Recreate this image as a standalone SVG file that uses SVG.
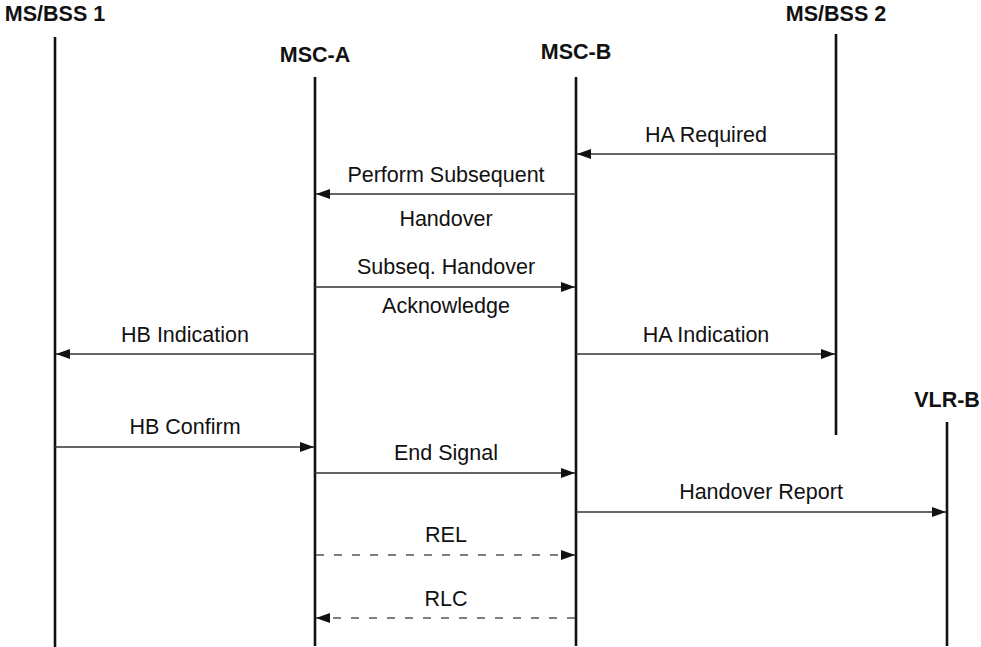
<svg xmlns="http://www.w3.org/2000/svg" width="981" height="647" viewBox="0 0 981 647">
<defs>
<style>
.t{font-family:"Liberation Sans",Arial,sans-serif;font-size:21.5px;fill:#111;text-anchor:middle}
.h{font-weight:bold}
.life{stroke:#111;stroke-width:2.6;fill:none}
.msg{stroke:#333;stroke-width:1.4;fill:none;marker-end:url(#ah)}
.dash{stroke:#555;stroke-dasharray:8,10}
</style>
<marker id="ah" viewBox="0 0 14 10" refX="14" refY="5" markerWidth="14" markerHeight="10" markerUnits="userSpaceOnUse" orient="auto">
<path d="M0,0 L14,5 L0,10 Z" fill="#111"/>
</marker>
</defs>
<rect width="981" height="647" fill="#fff"/>
<g id="msbss1"><text class="t h" x="55" y="21">MS/BSS 1</text><line class="life" x1="55" y1="37" x2="55" y2="647"/></g>
<g id="msca"><text class="t h" x="315" y="62">MSC-A</text><line class="life" x1="315" y1="77" x2="315" y2="646"/></g>
<g id="mscb"><text class="t h" x="576" y="59">MSC-B</text><line class="life" x1="576" y1="77" x2="576" y2="646"/></g>
<g id="msbss2"><text class="t h" x="836" y="21">MS/BSS 2</text><line class="life" x1="836" y1="34" x2="836" y2="435"/></g>
<g id="vlrb"><text class="t h" x="947" y="407">VLR-B</text><line class="life" x1="947" y1="422" x2="947" y2="646"/></g>
<g id="connectors">
<line class="msg" x1="836" y1="154" x2="577" y2="154"/>
<text class="t" x="706" y="142">HA Required</text>
<line class="msg" x1="576" y1="194" x2="316" y2="194"/>
<text class="t" x="446" y="182">Perform Subsequent</text>
<text class="t" x="446" y="226">Handover</text>
<line class="msg" x1="315" y1="287" x2="575" y2="287"/>
<text class="t" x="446" y="274">Subseq. Handover</text>
<text class="t" x="446" y="313">Acknowledge</text>
<line class="msg" x1="315" y1="354" x2="56" y2="354"/>
<text class="t" x="185" y="342">HB Indication</text>
<line class="msg" x1="576" y1="354" x2="835" y2="354"/>
<text class="t" x="706" y="342">HA Indication</text>
<line class="msg" x1="55" y1="447" x2="314" y2="447"/>
<text class="t" x="185" y="434">HB Confirm</text>
<line class="msg" x1="315" y1="473" x2="575" y2="473"/>
<text class="t" x="446" y="460">End Signal</text>
<line class="msg" x1="576" y1="512" x2="946" y2="512"/>
<text class="t" x="761" y="499">Handover Report</text>
<line class="msg dash" x1="316" y1="555" x2="575" y2="555"/>
<text class="t" x="446" y="542">REL</text>
<line class="msg dash" x1="575" y1="618" x2="316" y2="618"/>
<text class="t" x="446" y="606">RLC</text>
</g>
</svg>
